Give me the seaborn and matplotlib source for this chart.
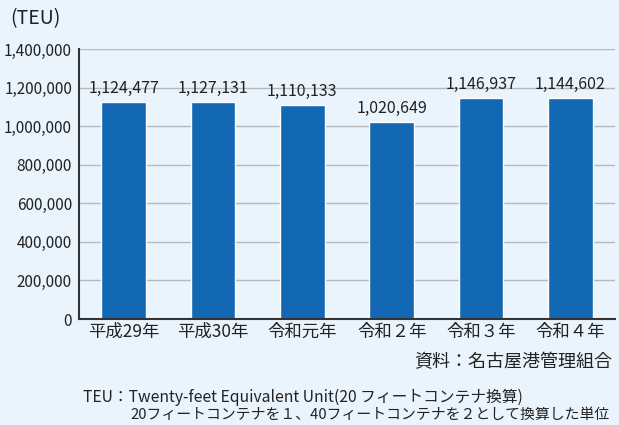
import matplotlib
matplotlib.use("Agg")
import matplotlib.pyplot as plt
import seaborn as sns
import pandas as pd
from matplotlib.ticker import FuncFormatter

years = ["平成29年", "平成30年", "令和元年", "令和２年", "令和３年", "令和４年"]
teu = [1124477, 1127131, 1110133, 1020649, 1146937, 1144602]
yticks = [0, 200000, 400000, 600000, 800000, 1000000, 1200000, 1400000]

bg = "#eaf4fc"
sns.set_theme(style="white")
plt.rcParams['font.family'] = ['Noto Sans CJK JP', 'DejaVu Sans']

df = pd.DataFrame({"year": years, "teu": teu})

fig = plt.figure(figsize=(6.19, 4.25), dpi=100, facecolor=bg)
ax = fig.add_axes([0.1276, 0.2494, 0.866, 0.6353])
ax.set_facecolor(bg)
sns.barplot(data=df, x="year", y="teu", color="#1268b3", width=0.5, ax=ax, saturation=1)

ax.set_ylim(0, 1400000)
ax.set_yticks(yticks)
ax.yaxis.set_major_formatter(FuncFormatter(lambda v, p: f"{int(v):,}"))
ax.grid(axis="y", color="#b8b8b8", linewidth=1)
ax.set_axisbelow(True)
for s in ["top", "right"]:
    ax.spines[s].set_visible(False)
for s in ["left", "bottom"]:
    ax.spines[s].set_color("#333333")
    ax.spines[s].set_linewidth(1.5)
ax.set_xlabel("")
ax.set_ylabel("")
ax.tick_params(axis="y", length=0, labelsize=11, colors="#222222", pad=5)
ax.tick_params(axis="x", length=0, labelsize=12.5, colors="#222222", pad=3)
ax.set_xlim(-0.5, 5.5)

for i, v in enumerate(teu):
    ax.text(i, v + 25000, f"{v:,}", ha="center", va="bottom", fontsize=11.5, color="#222222")

fig.text(10/619, 1 - 19/425, "(TEU)", ha="left", va="center", fontsize=14, color="#222222")
fig.text(612/619, 1 - 362/425, "資料：名古屋港管理組合", ha="right", va="center", fontsize=13, color="#222222")
fig.text(83/619, 1 - 397/425, "TEU：Twenty-feet Equivalent Unit(20 フィートコンテナ換算)", ha="left", va="center", fontsize=11.3, color="#222222")
fig.text(130/619, 1 - 415/425, "20フィートコンテナを１、40フィートコンテナを２として換算した単位", ha="left", va="center", fontsize=10.7, color="#222222")

fig.savefig("out.png", dpi=100, facecolor=bg)
